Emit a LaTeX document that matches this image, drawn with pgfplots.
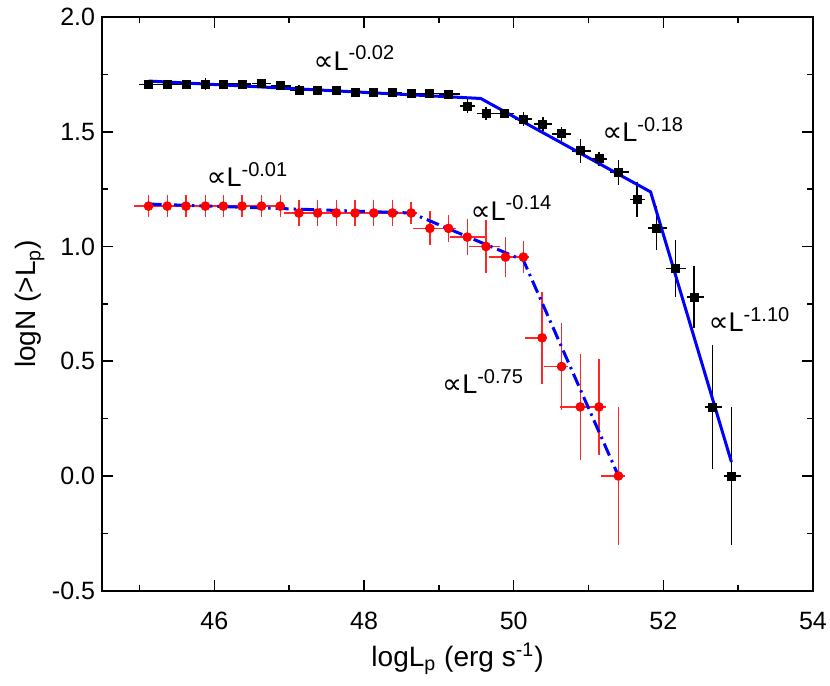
\documentclass[border=0pt]{standalone}
\usepackage{pgfplots}
\pgfplotsset{compat=1.18}
\usepackage{pgfplotstable}
\usepackage{fontspec}
\setmainfont{Liberation Sans}
\newfontfamily\symfont{DejaVu Sans}

% black: all bursts, red: subsample  (x, y, x-err minus/plus, y-err)
\pgfplotstableread{
x     y      exm   exp   ey
45.12 1.705  0.125 0.125 0.010
45.37 1.706  0.125 0.125 0.010
45.62 1.708  0.125 0.125 0.010
45.88 1.708  0.125 0.125 0.025
46.12 1.708  0.125 0.125 0.010
46.37 1.708  0.125 0.125 0.010
46.63 1.711  0.125 0.125 0.010
46.88 1.700  0.125 0.150 0.020
47.13 1.681  0.125 0.125 0.022
47.38 1.681  0.125 0.125 0.010
47.63 1.681  0.125 0.125 0.010
47.88 1.672  0.125 0.125 0.020
48.13 1.672  0.125 0.125 0.010
48.38 1.672  0.125 0.125 0.010
48.63 1.666  0.125 0.125 0.020
48.88 1.666  0.125 0.125 0.010
49.13 1.664  0.125 0.150 0.010
49.38 1.612  0.100 0.100 0.030
49.63 1.580  0.125 0.125 0.030
49.88 1.580  0.125 0.125 0.010
50.13 1.556  0.110 0.110 0.030
50.39 1.533  0.125 0.125 0.030
50.64 1.491  0.125 0.125 0.030
50.89 1.417  0.110 0.140 0.052
51.14 1.382  0.110 0.110 0.030
51.40 1.324  0.110 0.140 0.055
51.65 1.205  0.100 0.100 0.076
51.91 1.081  0.120 0.140 0.095
52.16 0.904  0.120 0.140 0.124
52.41 0.780  0.100 0.130 0.135
52.66 0.301  0.100 0.130 0.270
52.91 0.000  0.100 0.130 0.300
}\blackdata

\pgfplotstableread{
x     y      exm   exp   ey
45.12 1.176  0.200 0.200 0.047
45.37 1.176  0.200 0.200 0.047
45.62 1.176  0.200 0.200 0.047
45.88 1.176  0.200 0.200 0.047
46.12 1.176  0.200 0.200 0.047
46.37 1.176  0.200 0.200 0.047
46.63 1.176  0.200 0.200 0.047
46.88 1.176  0.200 0.060 0.047
47.13 1.146  0.200 0.200 0.055
47.38 1.146  0.200 0.200 0.055
47.63 1.146  0.200 0.200 0.055
47.88 1.146  0.200 0.200 0.055
48.13 1.146  0.200 0.200 0.055
48.38 1.146  0.200 0.200 0.055
48.63 1.146  0.200 0.080 0.050
48.88 1.079  0.220 0.250 0.074
49.13 1.079  0.100 0.100 0.060
49.38 1.041  0.230 0.240 0.077
49.63 1.000  0.230 0.190 0.116
49.89 0.954  0.220 0.250 0.089
50.13 0.954  0.070 0.070 0.068
50.38 0.602  0.230 0.060 0.200
50.64 0.477  0.230 0.080 0.190
50.89 0.301  0.270 0.090 0.230
51.14 0.301  0.160 0.090 0.210
51.40 0.000  0.230 0.090 0.300
}\reddata

\newcommand{\prop}[1]{{\symfont\fontsize{14}{16}\selectfont\char"221D}L\textsuperscript{\fontsize{10}{10}\selectfont #1}}

\begin{document}
\begin{tikzpicture}
\begin{axis}[
    scale only axis,
    width=355pt, height=286.5pt,
    xmin=44.5, xmax=54,
    ymin=-0.5, ymax=2.0,
    xtick={46,48,50,52,54},
    minor xtick={45,47,49,51,53},
    ytick={-0.5,0,0.5,1,1.5,2},
    minor ytick={-0.25,0.25,0.75,1.25,1.75},
    yticklabel style={/pgf/number format/.cd, fixed, fixed zerofill, precision=1},
    /pgf/number format/assume math mode=true,
    tick align=inside,
    major tick length=5.5pt,
    minor tick length=2.8pt,
    every tick/.style={black, line width=0.8pt},
    axis line style={line width=1pt},
    tick label style={font=\fontsize{12.5}{14}\selectfont},
    xticklabel style={yshift=-7pt},
    xlabel={logL\textsubscript{p} (erg s\textsuperscript{-1})},
    ylabel={logN (>L\textsubscript{p})},
    label style={font=\fontsize{14}{16}\selectfont},
    xlabel style={at={(rel axis cs:0.5,0)}, anchor=center, yshift=-34pt},
    ylabel style={at={(rel axis cs:0,0.5)}, anchor=center, yshift=36pt},
    clip=false,
]
% black data
\addplot[black, only marks, mark=square*, mark size=2pt,
    error bars/.cd, x dir=both, x explicit, y dir=both, y explicit,
    error bar style={line width=0.7pt, black}, error mark=none]
    table[x=x, y=y, x error minus=exm, x error plus=exp, y error=ey] {\blackdata};
% red data
\addplot[red, only marks, mark=*, mark size=2.2pt,
    error bars/.cd, x dir=both, x explicit, y dir=both, y explicit,
    error bar style={line width=0.7pt, red!85!white}, error mark=none]
    table[x=x, y=y, x error minus=exm, x error plus=exp, y error=ey] {\reddata};
% broken power-law fits
\addplot[blue, line width=1.5pt, no marks] coordinates {
    (45.12,1.721) (49.56,1.645) (51.83,1.238) (52.91,0.061)};
\addplot[blue, line width=1.5pt, no marks,
    dash pattern=on 6.5pt off 2.5pt on 1.2pt off 2.5pt] coordinates {
    (45.12,1.185) (48.63,1.146) (50.13,0.940) (51.40,0.0)};

\node[anchor=base west, inner sep=0pt, font=\fontsize{13.5}{15}\selectfont] at (axis cs:47.32,1.769) {\prop{-0.02}};
\node[anchor=base west, inner sep=0pt, font=\fontsize{13.5}{15}\selectfont] at (axis cs:51.18,1.456) {\prop{-0.18}};
\node[anchor=base west, inner sep=0pt, font=\fontsize{13.5}{15}\selectfont] at (axis cs:45.89,1.260) {\prop{-0.01}};
\node[anchor=base west, inner sep=0pt, font=\fontsize{13.5}{15}\selectfont] at (axis cs:49.42,1.115) {\prop{-0.14}};
\node[anchor=base west, inner sep=0pt, font=\fontsize{13.5}{15}\selectfont] at (axis cs:52.60,0.628) {\prop{-1.10}};
\node[anchor=base west, inner sep=0pt, font=\fontsize{13.5}{15}\selectfont] at (axis cs:49.04,0.359) {\prop{-0.75}};
\end{axis}
\pgfresetboundingbox
\path[use as bounding box] ([xshift=-51pt, yshift=-47.5pt]current axis.south west)
    rectangle ([xshift=8.5pt, yshift=8.5pt]current axis.north east);
\end{tikzpicture}
\end{document}
